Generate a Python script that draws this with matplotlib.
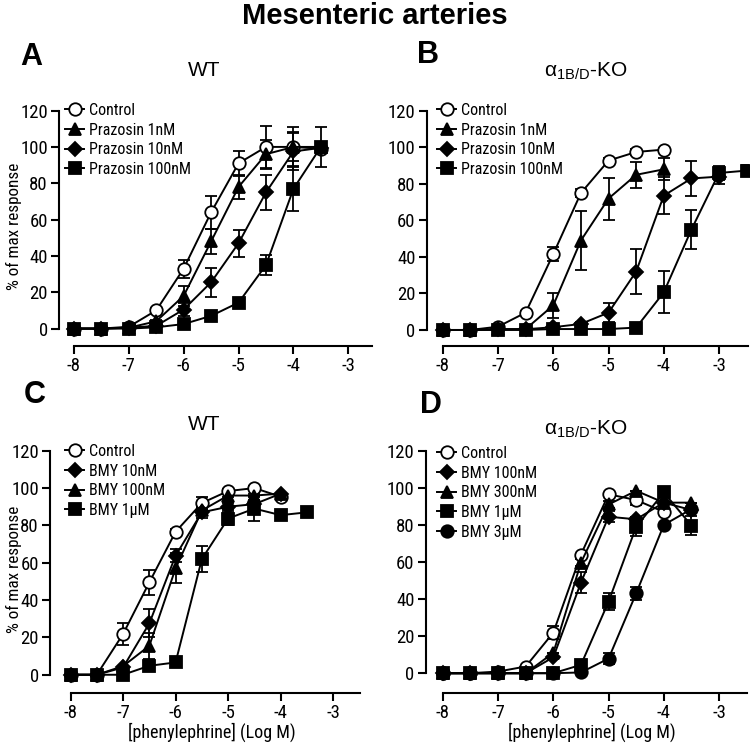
import matplotlib
matplotlib.use('Agg')
import matplotlib.pyplot as plt
from matplotlib import font_manager

# narrow font if one is installed, else plain Liberation Sans at smaller sizes
names = set(f.name for f in font_manager.fontManager.ttflist)
NF = 'Liberation Sans'
for cand in ['Liberation Sans Narrow', 'Arial Narrow', 'Roboto Condensed',
             'Open Sans Condensed']:
    if cand in names:
        NF = cand
        break
narrow = NF != 'Liberation Sans'
TICK = 13.5 if narrow else 11
YLAB = 12.3 if narrow else 11.5
XLAB = 13 if narrow else 11.5
LEG = 11.5 if narrow else 9

plt.rcParams['font.family'] = ['Liberation Sans', 'DejaVu Sans']
plt.rcParams['mathtext.default'] = 'regular'
plt.rcParams['axes.unicode_minus'] = False

# concentrations (log M)
xs = [-8, -7.5, -7, -6.5, -6, -5.5, -5, -4.5, -4, -3.5, -3, -2.5]

# A: WT, prazosin
A_ctrl = [0, 0, 1, 10, 33, 64, 91, 100, 100, 99]
A_ctrl_e = [0, 0, 0, 1.5, 5, 9, 7, 11.5, 11, 0]
A_p1 = [0, 0, 0.5, 4, 18, 48, 78, 96, 100, 100]
A_p1_e = [0, 0, 0, 1, 5.5, 7, 6.5, 8, 8, 0]
A_p10 = [0, 0, 0.5, 1.5, 10.5, 25.5, 47, 75, 97.5, 99.5]
A_p10_e = [0, 0, 0, 0, 3.5, 8, 7.5, 9.5, 10, 0]
A_p100 = [0, 0, 0, 0.7, 2.5, 7, 14.3, 35, 77, 100]
A_p100_e = [0, 0, 0, 0, 0, 0, 1.5, 5.5, 12.5, 11]

# B: a1B/D-KO, prazosin
B_ctrl = [0, 0, 1.8, 9.5, 41.6, 75, 92.8, 97.5, 98.8]
B_ctrl_e = [0, 0, 0, 1, 4, 2, 1.5, 1.5, 1]
B_p1 = [0, 0, 0.5, 0.5, 13.5, 49, 72, 85, 88]
B_p1_e = [0, 0, 0, 0, 7, 16, 11.5, 7.2, 6]
B_p10 = [0, 0, 0.3, 0.4, 1.5, 3.3, 9.5, 32, 73.6, 83, 84]
B_p10_e = [0, 0, 0, 0, 0, 1, 5, 12.3, 10, 9.4, 4]
B_p100 = [0, 0, 0, 0, 0.5, 0.5, 0.5, 1.3, 20.6, 55, 86, 87.3]
B_p100_e = [0, 0, 0, 0, 0, 0, 0, 0, 11.5, 10.8, 4, 3]

# C: WT, BMY
C_ctrl = [0, 0, 21.8, 49.5, 76.6, 92, 98.4, 100, 95.4]
C_ctrl_e = [0, 0, 5.8, 6.7, 1.5, 3.3, 1, 1, 1]
C_b10 = [0, 0, 3.9, 27.5, 63.8, 87, 90, 91.4, 97]
C_b10_e = [0, 0, 0, 7.5, 3.5, 3, 2, 2, 0]
C_b100 = [0, 0, 4.6, 15.5, 57, 88, 96, 96, 97]
C_b100_e = [0, 0, 0, 7, 8, 2, 1, 1, 0]
C_b1u = [0, 0, 0, 4.8, 6.6, 62, 83.7, 89, 85.5, 87]
C_b1u_e = [0, 0, 0, 0, 0, 6.9, 3.5, 6.6, 0, 0]

# D: a1B/D-KO, BMY
D_ctrl = [0, 0, 0.9, 3.6, 21.9, 64, 96.5, 93.4, 87]
D_ctrl_e = [0, 0, 0, 0, 3.3, 0, 0, 2.5, 0]
D_b100 = [0, 0, 0, 0, 8.6, 48.9, 84.4, 83, 92, 88]
D_b100_e = [0, 0, 0, 0, 0, 5.8, 3, 0, 0, 0]
D_b300 = [0, 0, 0, 0, 11, 59.6, 91, 98.4, 92, 92]
D_b300_e = [0, 0, 0, 0, 0, 2, 2, 0, 0, 0]
D_b1u = [0, 0, 0, 0, 0, 4.5, 38.6, 79, 97.5, 79.6]
D_b1u_e = [0, 0, 0, 0, 0, 0, 4.5, 5, 0, 5]
D_b3u = [0, 0, 0, 0, 0, 0.4, 7.9, 43.1, 80, 88.5]
D_b3u_e = [0, 0, 0, 0, 0, 0, 3, 3.6, 0, 0]

yticks = [0, 20, 40, 60, 80, 100, 120]
xticks = [-8, -7, -6, -5, -4, -3]

MK = {'open': dict(marker='o', mfc='white', ms=9),
      'tri': dict(marker='^', mfc='black', ms=9),
      'dia': dict(marker='D', mfc='black', ms=7),
      'sq': dict(marker='s', mfc='black', ms=8),
      'dot': dict(marker='o', mfc='black', ms=9)}


def panel(rect, xlim, ylo, series, leg_xy, title, title_xy, letter, letter_xy,
          ylab_x=None, xlab_x=None):
    ax = fig.add_axes(rect)
    for y, e, mk, lab in series:
        x = xs[:len(y)]
        ax.errorbar(x, y, yerr=e, fmt='none', ecolor='black', elinewidth=1.3,
                    capsize=4, capthick=1.3, zorder=2)
        ax.plot(x, y, color='black', lw=1.4, mec='black', mew=1.3, label=lab,
                zorder=3, clip_on=False, **MK[mk])
    ax.set_xlim(*xlim)
    ax.set_ylim(ylo, 122)
    for s in ['top', 'right']:
        ax.spines[s].set_visible(False)
    ax.spines['left'].set_bounds(0, 120)
    ax.spines['bottom'].set_bounds(-8, xlim[1])
    for s in ['left', 'bottom']:
        ax.spines[s].set_linewidth(1.5)
    ax.set_xticks(xticks)
    ax.set_yticks(yticks)
    ax.tick_params(width=1.5, length=6, pad=2, labelsize=TICK)
    for t in ax.get_xticklabels() + ax.get_yticklabels():
        t.set_fontfamily(NF)
    hpx = rect[3] * 749
    if ylab_x is not None:
        ax.set_ylabel('% of max response', fontsize=YLAB, family=NF)
        ax.yaxis.set_label_coords(ylab_x, 0.5)
    if xlab_x is not None:
        ax.set_xlabel('[phenylephrine] (Log M)', fontsize=XLAB, family=NF)
        ax.xaxis.set_label_coords(xlab_x, -30 / hpx)
    ax.legend(loc='upper left', bbox_to_anchor=(leg_xy[0] / 750, 1 - leg_xy[1] / 749),
              bbox_transform=fig.transFigure, frameon=False, borderpad=0,
              handlelength=1.2, handletextpad=0.32, labelspacing=0.29,
              prop={'family': NF, 'size': LEG})
    fig.text(title_xy[0] / 750, 1 - title_xy[1] / 749, title, fontsize=15,
             ha='center', va='center')
    fig.text(letter_xy[0] / 750, 1 - letter_xy[1] / 749, letter, fontsize=22,
             fontweight='bold', ha='left', va='center')
    return ax


fig = plt.figure(figsize=(7.5, 7.49), dpi=100)
fig.text(0.5, 1 - 16 / 749, 'Mesenteric arteries', fontsize=21, fontweight='bold',
         ha='center', va='center')

ko = r'α$_{1B/D}$-KO'

panel([0.0787, 0.5385, 0.4173, 0.3187], (-8.27, -2.57), -9.4,
      [(A_ctrl, A_ctrl_e, 'open', 'Control'),
       (A_p1, A_p1_e, 'tri', 'Prazosin 1nM'),
       (A_p10, A_p10_e, 'dia', 'Prazosin 10nM'),
       (A_p100, A_p100_e, 'sq', 'Prazosin 100nM')],
      (57, 95), 'WT', (204, 71), 'A', (20, 57), ylab_x=-0.118)

panel([0.569, 0.5385, 0.4284, 0.3183], (-8.29, -2.475), -8.6,
      [(B_ctrl, B_ctrl_e, 'open', 'Control'),
       (B_p1, B_p1_e, 'tri', 'Prazosin 1nM'),
       (B_p10, B_p10_e, 'dia', 'Prazosin 10nM'),
       (B_p100, B_p100_e, 'sq', 'Prazosin 100nM')],
      (429, 95), ko, (586, 71), 'B', (417, 55))

panel([0.0667, 0.0752, 0.4133, 0.328], (-8.39, -2.49), -9.6,
      [(C_ctrl, C_ctrl_e, 'open', 'Control'),
       (C_b10, C_b10_e, 'dia', 'BMY 10nM'),
       (C_b100, C_b100_e, 'tri', 'BMY 100nM'),
       (C_b1u, C_b1u_e, 'sq', 'BMY 1µM')],
      (57, 436), 'WT', (204, 424), 'C', (24, 395), ylab_x=-0.09, xlab_x=0.523)

panel([0.5676, 0.0752, 0.428, 0.328], (-8.31, -2.5), -10.5,
      [(D_ctrl, D_ctrl_e, 'open', 'Control'),
       (D_b100, D_b100_e, 'dia', 'BMY 100nM'),
       (D_b300, D_b300_e, 'tri', 'BMY 300nM'),
       (D_b1u, D_b1u_e, 'sq', 'BMY 1µM'),
       (D_b3u, D_b3u_e, 'dot', 'BMY 3µM')],
      (429, 438), ko, (586, 429), 'D', (420, 405), xlab_x=0.518)

fig.savefig('out.png', dpi=100)
